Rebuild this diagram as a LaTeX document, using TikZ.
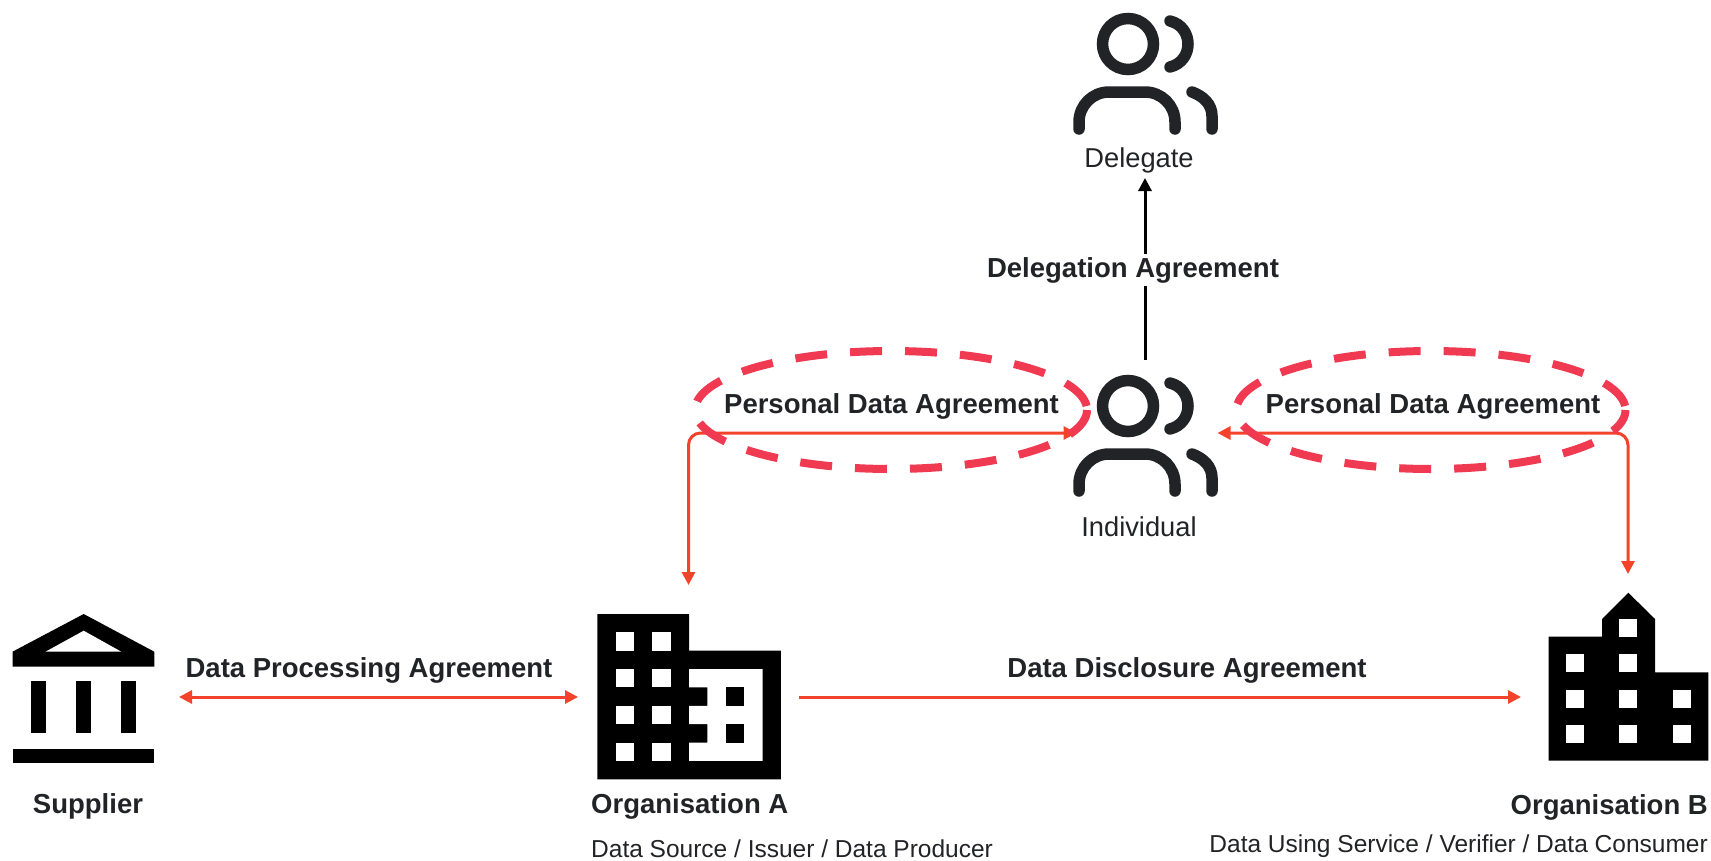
\documentclass[tikz,border=0pt]{standalone}
\usepackage{fontspec}
\setmainfont{Liberation Sans}
\usetikzlibrary{arrows.meta,positioning,shapes.geometric}
\definecolor{agreered}{HTML}{F4432B}
\definecolor{ovalred}{HTML}{F03A52}
\definecolor{inkgrey}{HTML}{222326}

\newcommand{\personicon}[2]{
\begin{scope}[shift={(#1,#2)},draw=inkgrey,line width=11.5pt,line cap=round]
\draw (0,0) circle (25.5);
\draw (42,-23) .. controls (54,-20) and (60,-10) .. (60,0) .. controls (60,10) and (54,20) .. (42,23);
\draw [rounded corners=30pt] (-49,85) -- (-49,48) -- (47,48) -- (47,85);
\draw (64,48) .. controls (75,52) and (84,60) .. (84,72) -- (84,85);
\end{scope}
}

\begin{document}
\begin{tikzpicture}
[x=1pt,y=-1pt,
iconbox/.style={inner sep=0pt,outer sep=0pt},
boldtext/.style={font=\fontsize{27.5}{32}\selectfont\bfseries,text=inkgrey,inner sep=0pt},
plaintext/.style={font=\fontsize{24.5}{29}\selectfont,text=inkgrey,inner sep=0pt},
nametext/.style={font=\fontsize{27.3}{32}\selectfont,text=inkgrey,inner sep=0pt},
redline/.style={draw=agreered,line width=3pt,-{Triangle[length=13pt,width=13pt]}},
redboth/.style={draw=agreered,line width=3pt,{Triangle[length=13pt,width=13pt]}-{Triangle[length=13pt,width=13pt]}},
agreeoval/.style={ellipse,draw=ovalred,line width=8pt,dash pattern=on 32pt off 23pt,dash phase=51pt,inner sep=0pt}]
\useasboundingbox (0,0) rectangle (1711,860);

\node[iconbox,minimum width=190pt,minimum height=100pt] (supplier) at (84,697) {};
\node[iconbox,minimum width=221pt,minimum height=224pt] (orgA) at (688.5,697) {};
\node[iconbox,minimum width=214pt,minimum height=246pt] (orgB) at (1628,697) {};
\node[iconbox,minimum width=141pt,minimum height=146pt] (individual) at (1147,433) {};
\node[iconbox,minimum width=141pt,minimum height=160pt] (delegate) at (1147,98) {};

% people
\personicon{1128}{44}
\personicon{1128}{406}

% supplier
\fill (12.5,651.7) -- (83.7,614) -- (154.3,651.7) -- (154.3,666.7) -- (12.5,666.7) -- cycle;
\fill[white] (83.7,630.7) -- (121.3,651.7) -- (45.5,651.7) -- cycle;
\foreach \x in {31.4,75.8,120.8}
  \fill (\x,680.7) rectangle ++(15,52.6);
\fill (12.5,748.7) rectangle (154.3,763.3);

% organisation A
\begin{scope}[shift={(597.3,614)},x=18.36pt,y=-18.36pt]
\fill (0,0) -- (5,0) -- (5,2) -- (10,2) -- (10,9) -- (0,9) -- cycle;
\foreach \x in {1,3}
  \foreach \y in {1,3,5,7}
    \fill[white] (\x,\y) rectangle ++(1,1);
\fill[white] (5,3) -- (9,3) -- (9,8) -- (5,8) -- (5,7) -- (6,7) -- (6,6) -- (5,6) -- (5,5) -- (6,5) -- (6,4) -- (5,4) -- cycle;
\fill (7,4) rectangle ++(1,1);
\fill (7,6) rectangle ++(1,1);
\end{scope}

% organisation B
\fill (1548.7,760.7) -- (1548.7,636.7) -- (1602,636.7) -- (1602,619) -- (1628.3,592.7) -- (1655,619) -- (1655,672.3) -- (1708.3,672.3) -- (1708.3,760.7) -- cycle;
\fill[white] (1619.3,619) rectangle ++(18,17.7);
\foreach \x in {1566.3,1619.3}
  \fill[white] (\x,654.3) rectangle ++(18,18);
\foreach \x in {1566.3,1619.3,1672.7}
  \foreach \y in {689.7,725.3}
    \fill[white] (\x,\y) rectangle ++(18,18);

\draw [redboth] (supplier) -- (orgA);
\draw [redline] (orgA) -- (orgB);
\draw [redboth,rounded corners=12pt] (orgA.north) |- (individual.west);
\draw [redboth,rounded corners=12pt] (orgB.north) |- (individual.east);
\draw [line width=3pt,draw=black,-{Triangle[length=13pt,width=13pt]}] ([xshift=-2pt]individual.north) -- ([xshift=-2pt]delegate.south);

\node[agreeoval,minimum width=392pt,minimum height=118pt] (ovalA) at (891,410) {};
\node[agreeoval,minimum width=389pt,minimum height=118pt] (ovalB) at (1431,410) {};

\node[boldtext] (pdaA) at (891.5,406) {Personal Data Agreement};
\node[boldtext] (pdaB) at (1433,406) {Personal Data Agreement};
\node[boldtext,fill=white,inner sep=3pt] (delegation) at (1133,270) {Delegation Agreement};
\node[boldtext] (processing) at (369,670) {Data Processing Agreement};
\node[boldtext] (disclosure) at (1187,670) {Data Disclosure Agreement};

\node[nametext] (delegatetext) at (1139,160) {Delegate};
\node[nametext] (individualtext) at (1139,527) {Individual};
\node[boldtext] (suppliertext) at (88,806) {Supplier};
\node[boldtext,anchor=west] (orgAtext) at (591,806) {Organisation A};
\node[plaintext,anchor=west] (orgArole) at (591,849) {Data Source / Issuer / Data Producer};
\node[boldtext,anchor=east] (orgBtext) at (1708,807) {Organisation B};
\node[plaintext,anchor=east] (orgBrole) at (1708,846) {Data Using Service / Verifier / Data Consumer};
\end{tikzpicture}
\end{document}
